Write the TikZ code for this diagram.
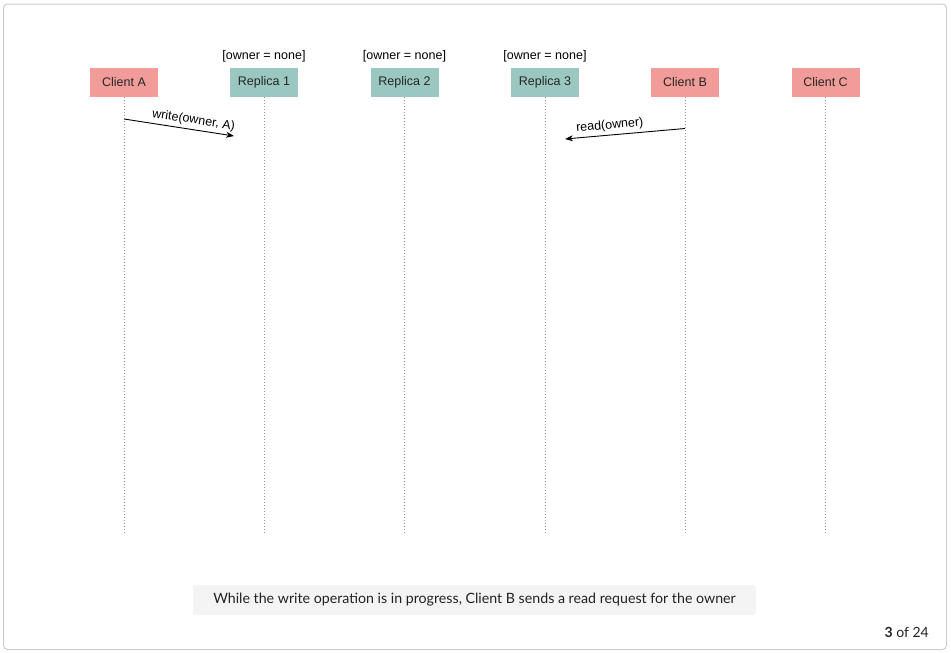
\documentclass[tikz,border=0pt]{standalone}
\usepackage{fontspec}
\setmainfont{Liberation Sans}
\newfontfamily\latofont{Lato}
\usetikzlibrary{arrows.meta}
\definecolor{clientfill}{HTML}{F19C99}
\definecolor{replicafill}{HTML}{9AC7BF}
\definecolor{lifeline}{HTML}{999999}
\definecolor{frameline}{HTML}{CCCCCC}
\definecolor{capfill}{HTML}{F4F4F4}
\definecolor{captext}{HTML}{222222}
\tikzset{
  actor/.style={minimum width=68pt, minimum height=29pt, inner sep=0pt, font=\fontsize{12.5}{14}\selectfont, text=black!85},
  clientbox/.style={actor, fill=clientfill},
  replicabox/.style={actor, fill=replicafill},
  statelabel/.style={font=\fontsize{12.5}{14}\selectfont, inner sep=0pt},
  lifelinestyle/.style={draw=lifeline, line width=1pt, dotted},
  msg/.style={draw=black, line width=0.9pt, -{Stealth[length=8pt,width=6pt]}},
  msglabel/.style={font=\fontsize{12.5}{14}\selectfont, sloped, inner sep=3pt},
}
\begin{document}
\begin{tikzpicture}[x=1pt,y=-1pt]
\useasboundingbox (0,0) rectangle (951,653);
\draw[frameline, line width=1pt, rounded corners=4pt] (3.5,4) rectangle (946.5,649.5);
% actors
\node[clientbox] (ca) at (124,82.5) {Client A};
\node[replicabox] (r1) at (264,82.5) {Replica 1};
\node[replicabox] (r2) at (404.5,82.5) {Replica 2};
\node[replicabox] (r3) at (545,82.5) {Replica 3};
\node[clientbox] (cb) at (685,82.5) {Client B};
\node[clientbox] (cc) at (825.5,82.5) {Client C};
% states
\node[statelabel] (s1) at (264,56) {[owner = none]};
\node[statelabel] (s2) at (404.5,56) {[owner = none]};
\node[statelabel] (s3) at (545,56) {[owner = none]};
% lifeline ends
\foreach \n/\x in {ca/124,r1/264,r2/404.5,r3/545,cb/685,cc/825.5}{
  \coordinate (\n end) at (\x,534);
  \draw[lifelinestyle] (\n.south) -- (\n end);
}
% messages
\coordinate (w0) at (124,119);
\coordinate (w1) at (234,136);
\draw[msg] (w0) -- node[msglabel, above, pos=0.62] {write(owner, A)} (w1);
\coordinate (rd0) at (685,128.5);
\coordinate (rd1) at (565,139);
\draw[msg] (rd0) -- node[msglabel, above, pos=0.62] {read(owner)} (rd1);
% caption
\node[fill=capfill, rounded corners=3pt, minimum width=563pt, minimum height=30pt, inner sep=0pt, font=\latofont\fontsize{14.2}{16}\selectfont, text=captext] (cap) at (474.5,600) {While the write operation is in progress, Client B sends a read request for the owner};
\node[anchor=east, inner sep=0pt, font=\latofont\fontsize{14}{16}\selectfont, text=captext] (pg) at (929,632) {\textbf{3} of 24};
\end{tikzpicture}
\end{document}
